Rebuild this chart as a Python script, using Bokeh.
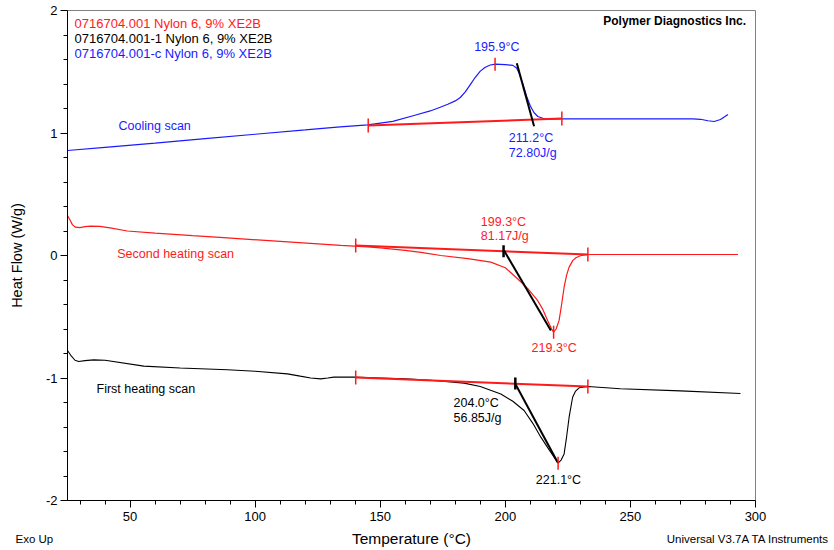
from bokeh.plotting import figure
from bokeh.models import Range1d, FixedTicker, Label, Title
from bokeh.embed import file_html
from bokeh.resources import INLINE
import numpy as np

# ---------------- data ----------------
cool_T = [25, 40, 60, 80, 100, 120, 134, 145, 155, 163.5, 170, 174, 177, 180, 182, 184, 186,
          188, 190, 192, 194, 196, 200, 203, 204.5, 205.5, 207, 208.5, 210, 211.5, 213, 215,
          217, 222, 240, 260, 275, 278, 281, 283.5, 286, 289]
cool_hf = [0.857, 0.883, 0.918, 0.954, 0.99, 1.025, 1.05, 1.066, 1.095, 1.143, 1.18, 1.21,
           1.235, 1.262, 1.29, 1.335, 1.395, 1.455, 1.505, 1.537, 1.555, 1.562, 1.558, 1.552,
           1.53, 1.49, 1.4, 1.3, 1.22, 1.165, 1.135, 1.12, 1.114, 1.116, 1.116, 1.116, 1.116,
           1.112, 1.1, 1.094, 1.11, 1.151]

heat2_T = [25, 26, 27, 28.2, 30, 32, 34.2, 38, 42, 48.9, 60, 75, 88.9, 110, 134.2, 145, 150,
           160, 167, 174.2, 185, 194.2, 200, 204.9, 209, 212.9, 215, 216.9, 218.5, 219.3,
           220.3, 221.5, 222.5, 223.5, 224.5, 225.5, 227, 228.2, 230, 233, 260, 293]
heat2_hf = [0.327, 0.29, 0.25, 0.231, 0.228, 0.235, 0.239, 0.237, 0.225, 0.2, 0.183, 0.162,
            0.144, 0.115, 0.082, 0.07, 0.062, 0.042, 0.024, 0.0, -0.025, -0.054, -0.1, -0.19,
            -0.27, -0.367, -0.44, -0.53, -0.6, -0.626, -0.6, -0.53, -0.4, -0.259, -0.16,
            -0.095, -0.04, -0.019, -0.002, 0.008, 0.008, 0.008]

heat1_T = [25, 26.5, 28, 29.5, 32, 35.5, 40, 55.5, 70, 88.9, 100, 112.9, 118, 122.2, 126.2,
           129, 131.5, 139.5, 150, 160, 170, 177, 183.5, 190, 198.2, 203, 207.5, 211, 214.2,
           217, 219.5, 221.1, 222.3, 223.5, 224.5, 225.5, 226.9, 228, 229.5, 233, 246, 270, 294]
heat1_hf = [-0.776, -0.82, -0.855, -0.865, -0.858, -0.852, -0.855, -0.903, -0.918, -0.933,
            -0.945, -0.966, -0.985, -1.0, -1.007, -1.0, -0.993, -0.993, -1.0, -1.007, -1.018,
            -1.03, -1.042, -1.07, -1.13, -1.19, -1.265, -1.37, -1.483, -1.57, -1.646, -1.695,
            -1.67, -1.62, -1.48, -1.32, -1.157, -1.11, -1.08, -1.07, -1.088, -1.105, -1.127]

# integration baselines (start / end)
cool_base_T = [145.2, 222.6]
cool_base_hf = [1.061, 1.118]
heat2_base_T = [140.2, 233.0]
heat2_base_hf = [0.082, 0.008]
heat1_base_T = [140.2, 233.0]
heat1_base_hf = [-0.996, -1.069]

# onset tangents (start / end)
cool_tan_T = [204.6, 211.5]
cool_tan_hf = [1.57, 1.055]
heat2_tan_T = [199.5, 218.2]
heat2_tan_hf = [0.04, -0.612]
heat1_tan_T = [204.2, 220.9]
heat1_tan_hf = [-1.055, -1.687]

# peaks and onsets
peak_T = [195.9, 219.3, 221.1]
peak_hf = [1.562, -0.626, -1.695]
onset_T = [199.3, 204.0]
onset_hf = [0.034, -1.045]

x_major = [50, 100, 150, 200, 250, 300]
x_minor = [30, 40, 60, 70, 80, 90, 110, 120, 130, 140, 160, 170, 180, 190, 210, 220, 230,
           240, 260, 270, 280, 290]
y_major = [-2, -1, 0, 1, 2]
y_minor = [-1.8, -1.6, -1.4, -1.2, -0.8, -0.6, -0.4, -0.2, 0.2, 0.4, 0.6, 0.8, 1.2, 1.4,
           1.6, 1.8]

legend_lines = ["0716704.001  Nylon 6, 9% XE2B", "0716704.001-1  Nylon 6, 9% XE2B",
                "0716704.001-c  Nylon 6, 9% XE2B"]

BLUE = "#1a1aff"
RED = "#ff1a1a"
BLACK = "#000000"
FONT = "Liberation Sans"

p = figure(width=834, height=550, output_backend="svg", toolbar_location=None,
           x_range=Range1d(25, 300), y_range=Range1d(-2, 2),
           min_border_left=67, min_border_right=79, min_border_top=10, min_border_bottom=50)
p.xgrid.visible = False
p.ygrid.visible = False
p.outline_line_color = "#808080"
p.outline_line_width = 1
p.background_fill_color = "white"
p.border_fill_color = "white"

p.xaxis.ticker = FixedTicker(ticks=x_major, minor_ticks=x_minor)
p.yaxis.ticker = FixedTicker(ticks=y_major, minor_ticks=y_minor)
p.yaxis.major_label_overrides = {v: str(v) for v in y_major}
for ax in (p.xaxis[0], p.yaxis[0]):
    ax.major_tick_in = 0
    ax.major_tick_out = 7
    ax.minor_tick_in = 0
    ax.minor_tick_out = 4
    ax.axis_line_color = BLACK
    ax.major_tick_line_color = BLACK
    ax.minor_tick_line_color = BLACK
    ax.major_label_text_font = FONT
    ax.major_label_text_font_size = "13px"
    ax.major_label_text_color = BLACK
    ax.major_label_standoff = 3
    ax.axis_label_text_font = FONT
    ax.axis_label_text_font_style = "normal"
    ax.axis_label_text_color = BLACK
p.xaxis.axis_label = "Temperature (°C)"
p.yaxis.axis_label = "Heat Flow (W/g)"
p.xaxis.axis_label_text_font_size = "15.5px"
p.yaxis.axis_label_text_font_size = "14.5px"
p.xaxis.major_label_standoff = 4
p.xaxis.axis_label_standoff = 6
p.yaxis.axis_label_standoff = 18

# curves
p.line(cool_T, cool_hf, line_color=BLUE, line_width=1.2)
p.line(heat2_T, heat2_hf, line_color=RED, line_width=1.2)
p.line(heat1_T, heat1_hf, line_color=BLACK, line_width=1.1)

# baselines
for bt, bh in ((cool_base_T, cool_base_hf), (heat2_base_T, heat2_base_hf), (heat1_base_T, heat1_base_hf)):
    p.line(bt, bh, line_color=RED, line_width=2)
    p.scatter(bt, bh, marker="dash", angle=np.pi / 2, size=14, line_color=RED, line_width=1.5)

# tangents
for tt, th in ((cool_tan_T, cool_tan_hf), (heat2_tan_T, heat2_tan_hf), (heat1_tan_T, heat1_tan_hf)):
    p.line(tt, th, line_color=BLACK, line_width=2)

p.scatter(peak_T, peak_hf, marker="dash", angle=np.pi / 2, size=13, line_color=RED, line_width=1.5)
p.scatter(onset_T, onset_hf, marker="dash", angle=np.pi / 2, size=12, line_color=BLACK, line_width=2.5)


def lab(x, y, text, color, size="12.5px", align="left", style="normal"):
    p.add_layout(Label(x=x, y=y, text=text, text_color=color, text_font=FONT,
                       text_font_size=size, text_align=align, text_baseline="middle",
                       text_font_style=style))


# legend / header
for txt, col, yy in zip(legend_lines, [RED, BLACK, BLUE], [1.891, 1.769, 1.647]):
    lab(27.8, yy, txt, col, size="13px")
lab(296.2, 1.918, "Polymer Diagnostics Inc.", BLACK, size="12px", align="right", style="bold")

# scan names
lab(45.4, 1.061, "Cooling scan", BLUE)
lab(44.9, 0.014, "Second heating scan", RED)
lab(36.6, -1.088, "First heating scan", BLACK)

# annotations
lab(196.6, 1.706, "195.9°C", BLUE, align="center")
lab(201.4, 0.963, "211.2°C", BLUE)
lab(201.4, 0.833, "72.80J/g", BLUE)
lab(190.2, 0.272, "199.3°C", RED)
lab(190.2, 0.163, "81.17J/g", RED)
lab(210.5, -0.759, "219.3°C", RED)
lab(179.3, -1.206, "204.0°C", BLACK)
lab(179.3, -1.325, "56.85J/g", BLACK)
lab(212.2, -1.831, "221.1°C", BLACK)

# footer texts: zero-height titles below the x axis, pulled up with a negative standoff
for txt, al, off in (("Exo Up", "left", -52), ("Universal V3.7A TA Instruments", "right", -74)):
    p.add_layout(Title(text=txt, align=al, offset=off, standoff=-34, vertical_align="top",
                       text_font=FONT, text_font_size="11.5px", text_font_style="normal",
                       text_color=BLACK), "below")

open("out.html", "w").write(file_html(p, INLINE))
